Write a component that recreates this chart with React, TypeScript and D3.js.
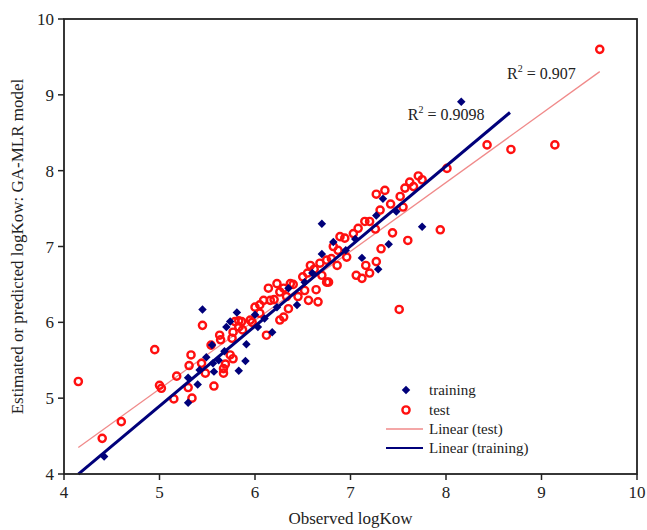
import React from "react";
import * as d3 from "d3";

const training: [number, number][] = [
  [4.42, 4.23], [5.3, 4.94], [5.3, 5.27], [5.4, 5.18], [5.42, 5.37], [5.49, 5.54],
  [5.55, 5.7], [5.56, 5.46], [5.57, 5.35], [5.68, 5.62], [5.7, 5.94], [5.83, 5.36],
  [5.91, 5.71], [5.9, 5.49], [6.03, 5.94], [5.45, 6.17], [5.81, 6.13], [5.74, 6.01],
  [6.18, 5.87], [6.23, 6.2], [6.44, 6.23], [6.52, 6.53], [6.7, 6.9], [7.12, 6.85],
  [7.29, 6.7], [6.7, 7.3], [6.82, 7.06], [7.34, 7.63], [7.48, 7.46], [7.75, 7.26],
  [7.4, 7.03], [7.27, 7.41], [8.16, 8.91], [6.1, 6.05], [6.35, 6.45], [6.6, 6.65],
  [6.95, 6.95], [7.05, 7.1], [6.0, 6.1], [5.62, 5.5],
];

const test: [number, number][] = [
  [4.15, 5.22], [4.4, 4.47], [4.6, 4.69], [4.95, 5.64], [5.0, 5.17], [5.02, 5.13],
  [5.15, 4.99], [5.18, 5.29], [5.3, 5.14], [5.33, 5.57], [5.31, 5.43], [5.34, 5.0],
  [5.45, 5.96], [5.44, 5.46], [5.48, 5.33], [5.54, 5.7], [5.57, 5.16], [5.63, 5.83],
  [5.64, 5.77], [5.67, 5.39], [5.67, 5.33], [5.69, 5.45], [5.74, 5.57], [5.77, 5.52],
  [5.76, 5.79], [5.77, 5.87], [5.83, 6.02], [5.97, 6.0], [5.83, 5.94], [5.87, 5.9],
  [5.79, 6.01], [5.86, 6.01], [5.95, 6.03], [6.05, 6.12], [6.12, 5.83], [6.05, 6.23],
  [6.14, 6.45], [6.23, 6.51], [6.37, 6.51], [6.26, 6.4], [6.33, 6.34], [6.16, 6.29],
  [6.09, 6.29], [6.35, 6.18], [6.26, 6.03], [6.3, 6.07], [6.58, 6.75], [6.68, 6.78],
  [6.75, 6.82], [6.8, 6.84], [6.86, 6.75], [6.75, 6.53], [6.56, 6.29], [6.66, 6.27],
  [6.45, 6.34], [7.06, 6.62], [7.12, 6.58], [7.2, 6.65], [7.27, 6.8], [6.52, 6.42],
  [8.01, 8.03], [7.71, 7.93], [7.57, 7.77], [7.66, 7.79], [7.36, 7.74], [7.27, 7.69],
  [7.52, 7.66], [7.42, 7.56], [7.55, 7.52], [7.31, 7.48], [7.94, 7.22], [7.44, 7.18],
  [7.6, 7.08], [7.32, 6.97], [6.89, 7.13], [6.94, 7.11], [7.08, 7.24], [7.15, 7.33],
  [7.2, 7.33], [7.26, 7.23], [7.03, 7.17], [6.82, 7.0], [6.87, 6.95], [6.96, 6.86],
  [6.7, 6.62], [6.77, 6.53], [6.64, 6.43], [7.16, 6.75], [9.61, 9.6], [8.43, 8.34],
  [8.68, 8.28], [9.14, 8.34], [7.51, 6.17], [6.0, 6.2], [6.2, 6.3], [6.3, 6.45],
  [6.4, 6.5], [6.5, 6.6], [6.55, 6.65], [6.62, 6.7], [7.62, 7.85], [7.75, 7.88],
];

// Fitted lines
const trainingFit = { slope: 1.055, intercept: -0.38, x0: 4.15, x1: 8.67 };
const testFit = { slope: 0.908, intercept: 0.58, x0: 4.15, x1: 9.61 };

const xTicks = [4, 5, 6, 7, 8, 9, 10];
const yTicks = [4, 5, 6, 7, 8, 9, 10];

const r2Labels = [
  { x: 7.6, y: 8.67, value: "0.9098" },
  { x: 8.64, y: 9.21, value: "0.907" },
];

const legendItems = ["training", "test", "Linear (test)", "Linear (training)"];

const W = 647;
const H = 530;
const L = 64, R = 637, T = 19, B = 474;
const NAVY = "#00007a";
const RED = "#ff1010";
const PINK = "#f08a8a";
const FONT = "'Liberation Serif', 'Times New Roman', serif";

export default function App() {
  const x = d3.scaleLinear().domain([4, 10]).range([L, R]);
  const y = d3.scaleLinear().domain([4, 10]).range([B, T]);
  const line = d3.line<[number, number]>().x((d) => x(d[0])).y((d) => y(d[1]));
  const fitPts = (f: typeof trainingFit): [number, number][] => [
    [f.x0, f.slope * f.x0 + f.intercept],
    [f.x1, f.slope * f.x1 + f.intercept],
  ];
  const diamond = d3.symbol(d3.symbolDiamond2, 46)();

  return (
    <svg width={W} height={H} style={{ position: "absolute", left: 0, top: 0, background: "#fff" }} fontFamily={FONT}>
      <rect x={0} y={0} width={W} height={H} fill="#fff" />
      <path d={line(fitPts(testFit)) || ""} stroke={PINK} strokeWidth={1.3} fill="none" />
      {test.map((d, i) => (
        <circle key={"t" + i} cx={x(d[0])} cy={y(d[1])} r={3.6} fill="none" stroke={RED} strokeWidth={2.4} />
      ))}
      {training.map((d, i) => (
        <path key={"r" + i} d={diamond || ""} transform={`translate(${x(d[0])},${y(d[1])})`} fill={NAVY} />
      ))}
      <path d={line(fitPts(trainingFit)) || ""} stroke={NAVY} strokeWidth={3} fill="none" />

      <rect x={L} y={T} width={R - L} height={B - T} fill="none" stroke="#222" strokeWidth={1.8} />
      {xTicks.map((t) => (
        <g key={"xt" + t}>
          <line x1={x(t)} x2={x(t)} y1={B} y2={B + 6} stroke="#222" strokeWidth={1.5} />
          <text x={x(t)} y={B + 24} textAnchor="middle" fontSize={17} fill="#222">{t}</text>
        </g>
      ))}
      {yTicks.map((t) => (
        <g key={"yt" + t}>
          <line x1={L - 6} x2={L} y1={y(t)} y2={y(t)} stroke="#222" strokeWidth={1.5} />
          <text x={L - 10} y={y(t) + 6} textAnchor="end" fontSize={17} fill="#222">{t}</text>
        </g>
      ))}
      <text x={(L + R) / 2} y={524} textAnchor="middle" fontSize={17} fill="#222">Observed logKow</text>
      <text transform={`translate(23,${(T + B) / 2}) rotate(-90)`} textAnchor="middle" fontSize={17} fill="#222">
        Estimated or predicted logKow: GA-MLR model
      </text>

      {r2Labels.map((l, i) => (
        <text key={"r2" + i} x={x(l.x)} y={y(l.y)} fontSize={16} fill="#222">
          R<tspan dy={-7} fontSize={10}>2</tspan>
          <tspan dy={7}> = {l.value}</tspan>
        </text>
      ))}

      <g>
        <path d={diamond || ""} transform="translate(406,390)" fill={NAVY} />
        <circle cx={406} cy={410} r={3.6} fill="none" stroke={RED} strokeWidth={2.4} />
        <line x1={386} x2={423} y1={429} y2={429} stroke={PINK} strokeWidth={1.3} />
        <line x1={386} x2={423} y1={448} y2={448} stroke={NAVY} strokeWidth={2} />
        {legendItems.map((s, i) => (
          <text key={s} x={429} y={[390, 410, 429, 448][i] + 5} fontSize={15} fill="#222">{s}</text>
        ))}
      </g>
    </svg>
  );
}
